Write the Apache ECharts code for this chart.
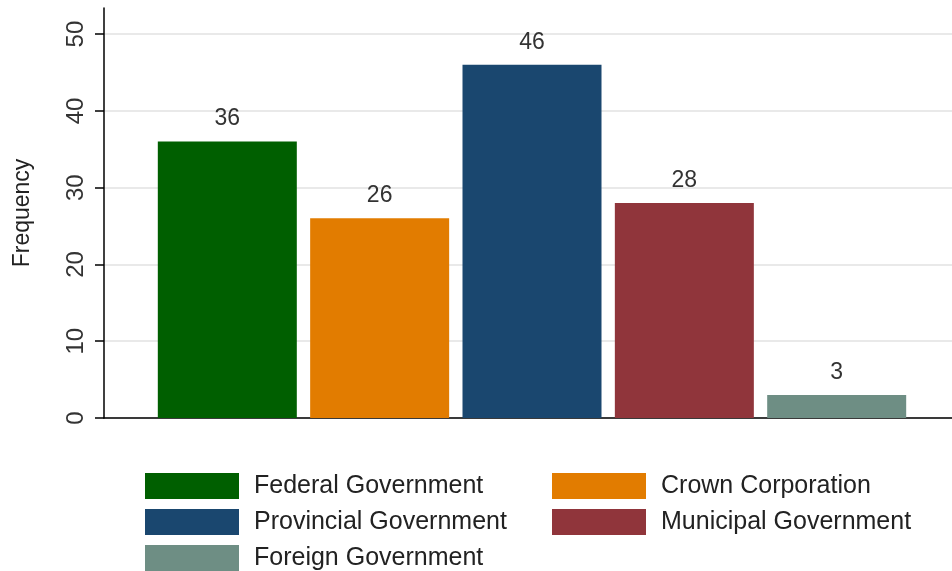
<!DOCTYPE html>
<html>
<head>
<meta charset="utf-8">
<script src="https://cdn.jsdelivr.net/npm/echarts@6/dist/echarts.min.js"></script>
<style>
html, body { margin: 0; padding: 0; background: #ffffff; }
#chart { width: 952px; height: 571px; }
</style>
</head>
<body>
<div id="chart"></div>
<script>
// Employer type counts
const categories = ['Federal Government', 'Crown Corporation', 'Provincial Government', 'Municipal Government', 'Foreign Government'];
const frequencies = [36, 26, 46, 28, 3];
const barColors = ['#005f00', '#e27c00', '#1a476f', '#90353b', '#6e8e84'];
const yTicks = [0, 10, 20, 30, 40, 50];

const FONT = 'Liberation Sans, Arial, sans-serif';
const NARROW = 'Liberation Sans Narrow, Arial Narrow, Liberation Sans, sans-serif';

const series = categories.map((name, i) => ({
  name: name,
  type: 'bar',
  data: [frequencies[i]],
  barWidth: 139,
  barGap: '9.6%',
  itemStyle: { color: barColors[i] },
  label: {
    show: true,
    position: 'top',
    distance: 11,
    fontFamily: NARROW,
    fontSize: 23,
    color: '#333333'
  }
}));

const legendBase = {
  orient: 'vertical',
  top: 473,
  padding: 0,
  itemWidth: 94,
  itemHeight: 26,
  itemGap: 10,
  icon: 'rect',
  textStyle: { fontFamily: FONT, fontSize: 25, color: '#222222', padding: [2, 0, 0, 10] }
};

const chart = echarts.init(document.getElementById('chart'));
chart.setOption({
  animation: false,
  backgroundColor: '#ffffff',
  grid: { left: 104, top: 8, width: 856, bottom: 153, containLabel: false, outerBoundsMode: 'none' },
  xAxis: {
    type: 'category',
    data: [''],
    axisLine: { show: true, lineStyle: { color: '#000000', width: 1.5 } },
    axisTick: { show: false },
    axisLabel: { show: false },
    splitLine: { show: false }
  },
  yAxis: {
    type: 'value',
    min: 0,
    max: 53.4,
    interval: 10,
    name: 'Frequency',
    nameLocation: 'middle',
    nameGap: 70,
    nameRotate: 90,
    nameTextStyle: { fontFamily: FONT, fontSize: 23, color: '#222222' },
    axisLine: { show: true, lineStyle: { color: '#000000', width: 1.5 } },
    axisTick: { show: true, length: 9, customValues: yTicks, lineStyle: { color: '#000000', width: 1.5 } },
    axisLabel: {
      customValues: yTicks,
      rotate: 90,
      margin: 16,
      fontFamily: NARROW,
      fontSize: 24,
      color: '#333333'
    },
    splitLine: { show: true, lineStyle: { color: '#e2e2e2', width: 1.5 } }
  },
  legend: [
    Object.assign({ data: [categories[0], categories[2], categories[4]], left: 145 }, legendBase),
    Object.assign({ data: [categories[1], categories[3]], left: 552 }, legendBase)
  ],
  series: series
});
</script>
</body>
</html>
